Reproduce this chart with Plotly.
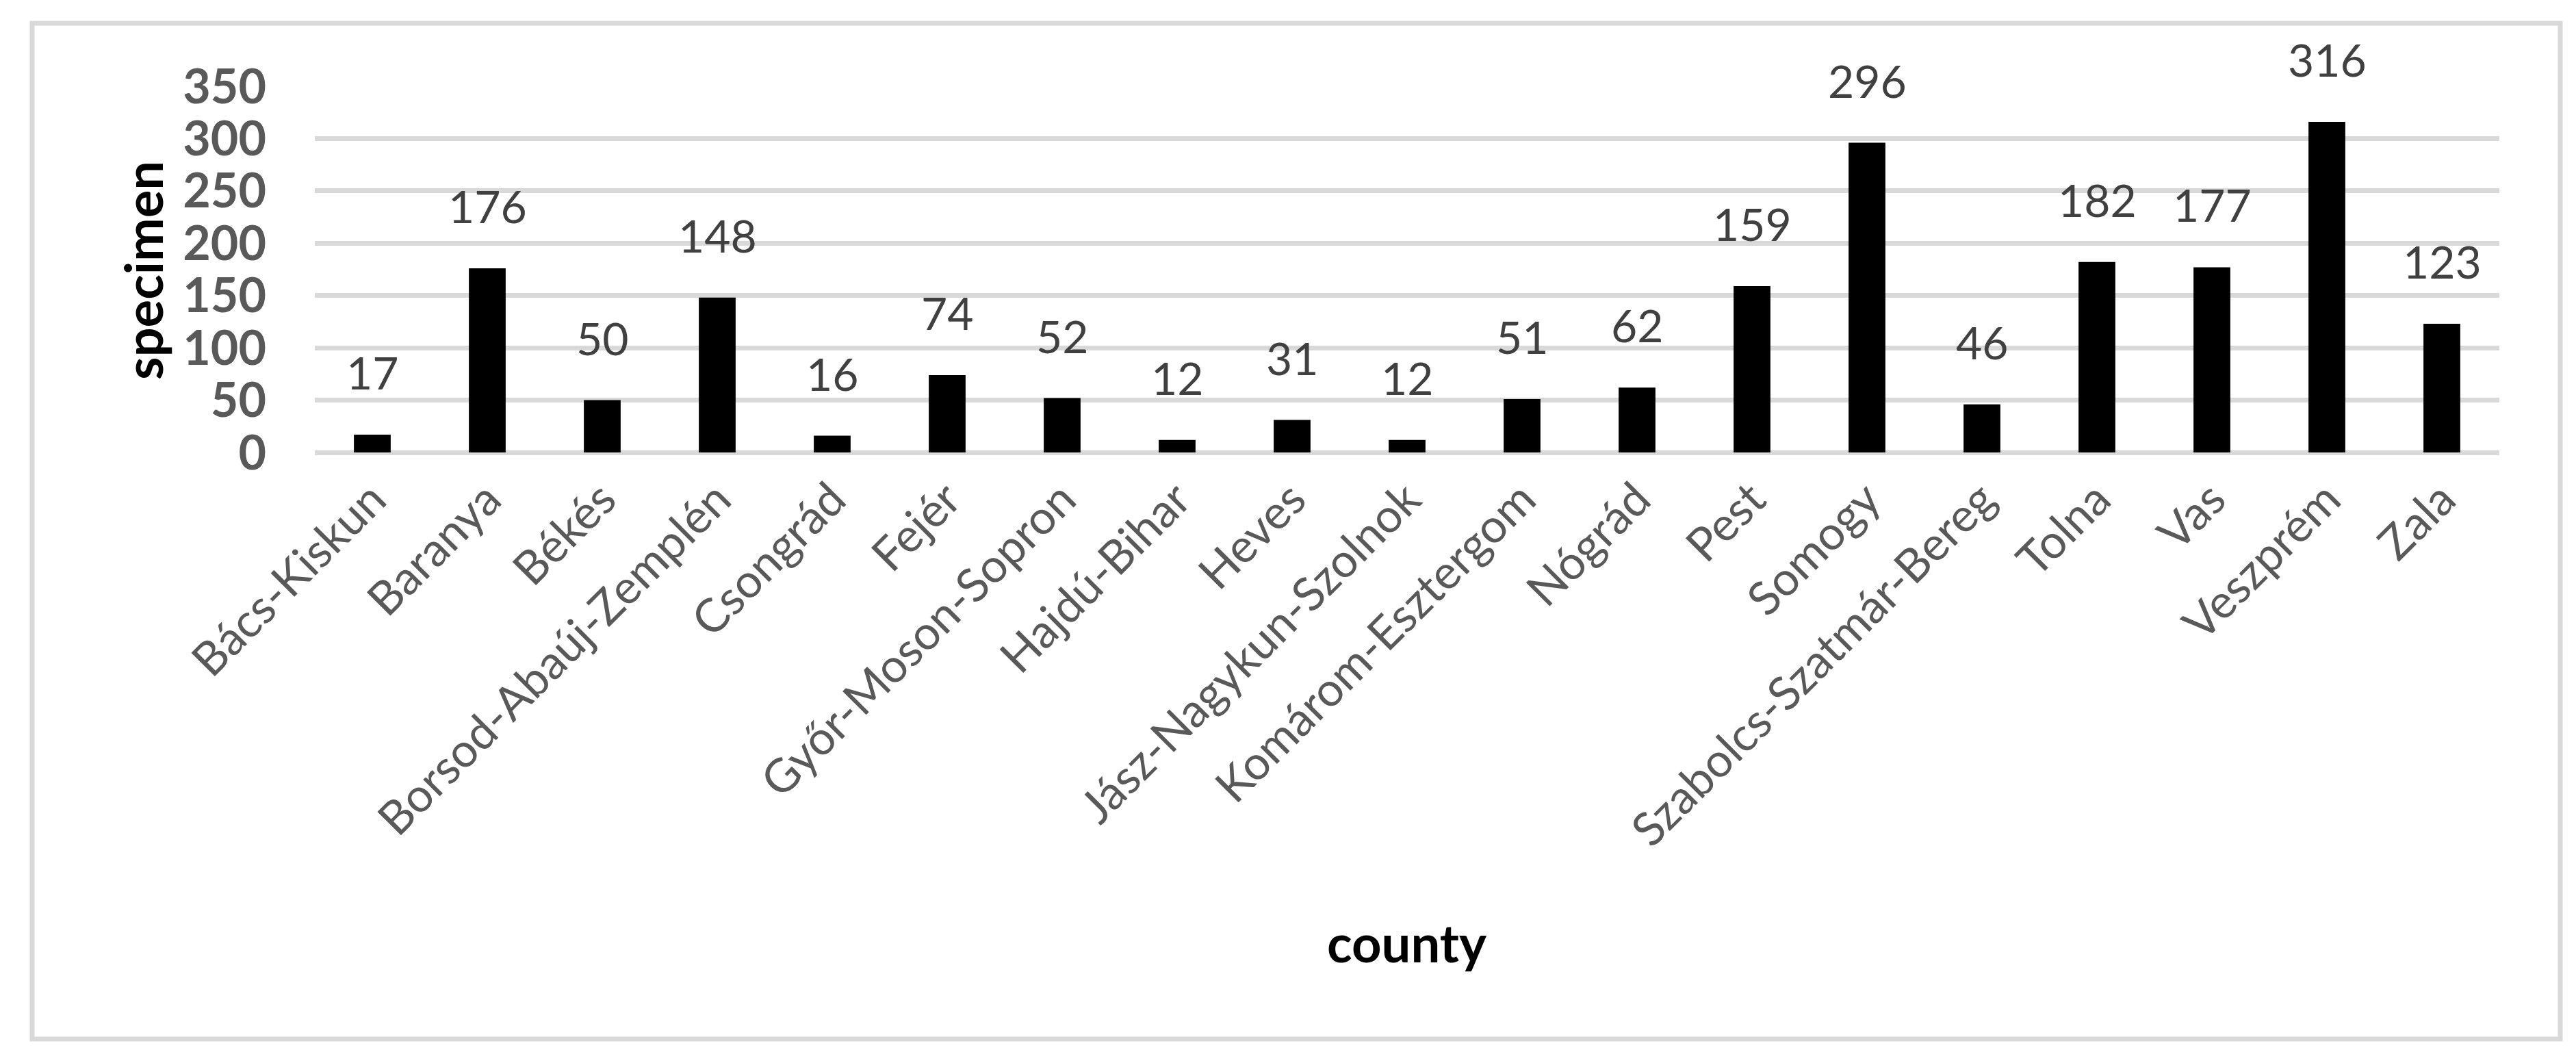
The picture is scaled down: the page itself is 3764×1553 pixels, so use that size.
import plotly.graph_objects as go

counties = ["Bács-Kiskun", "Baranya", "Békés", "Borsod-Abaúj-Zemplén", "Csongrád",
            "Fejér", "Győr-Moson-Sopron", "Hajdú-Bihar", "Heves", "Jász-Nagykun-Szolnok",
            "Komárom-Esztergom", "Nógrád", "Pest", "Somogy", "Szabolcs-Szatmár-Bereg",
            "Tolna", "Vas", "Veszprém", "Zala"]
specimens = [17, 176, 50, 148, 16, 74, 52, 12, 31, 12, 51, 62, 159, 296, 46, 182, 177, 316, 123]
y_ticks = [0, 50, 100, 150, 200, 250, 300, 350]

W, H = 3764, 1553
L, R, T, B = 452, 120, 118, 900
PW, PH = W - L - R, H - T - B

def px_x(px):
    return (px - L) / PW

def px_y(py):
    return (H - B - py) / PH

FONT = "Lato"
GRID = "#d9d9d9"

fig = go.Figure()
fig.add_trace(go.Bar(
    x=counties, y=specimens,
    marker=dict(color="#000000", line=dict(width=0)),
    width=0.32,
    hoverinfo="x+y",
))

annotations = []
for c, v in zip(counties, specimens):
    annotations.append(dict(
        x=c, y=v, xref="x", yref="y", text=str(v), showarrow=False,
        yanchor="bottom", yshift=50,
        font=dict(family=FONT, size=66, color="#404040"),
    ))

annotations.append(dict(
    x=px_x(200), y=px_y(387), xref="paper", yref="paper", text="<b>specimen</b>",
    showarrow=False, textangle=-90, xanchor="center", yanchor="middle",
    font=dict(family=FONT, size=76, color="#000000"),
))
annotations.append(dict(
    x=px_x(2048), y=px_y(1368), xref="paper", yref="paper", text="<b>county</b>",
    showarrow=False, xanchor="center", yanchor="middle",
    font=dict(family=FONT, size=76, color="#000000"),
))

fig.update_layout(
    width=W, height=H,
    margin=dict(l=L, r=R, t=T, b=B, autoexpand=False),
    paper_bgcolor="white", plot_bgcolor="white",
    showlegend=False,
    annotations=annotations,
    shapes=[dict(
        type="rect", xref="paper", yref="paper",
        x0=px_x(39), x1=px_x(3733), y0=px_y(1510), y1=px_y(26),
        line=dict(color=GRID, width=7), fillcolor="rgba(0,0,0,0)", layer="below",
    )],
    xaxis=dict(
        type="category", tickangle=-45, showgrid=False, showline=False,
        zeroline=False, ticks="", automargin=False,
        tickfont=dict(family=FONT, size=68, color="#595959"),
        ticklabelstandoff=14,
    ),
    yaxis=dict(
        range=[0, 350], tickvals=y_ticks, showgrid=True, gridcolor=GRID, gridwidth=7,
        zeroline=True, zerolinecolor=GRID, zerolinewidth=7, showline=False,
        ticks="", automargin=False,
        tickfont=dict(family=FONT, size=70, color="#595959", weight="bold"),
        ticklabelstandoff=70,
    ),
)

fig.write_html("out.html")
